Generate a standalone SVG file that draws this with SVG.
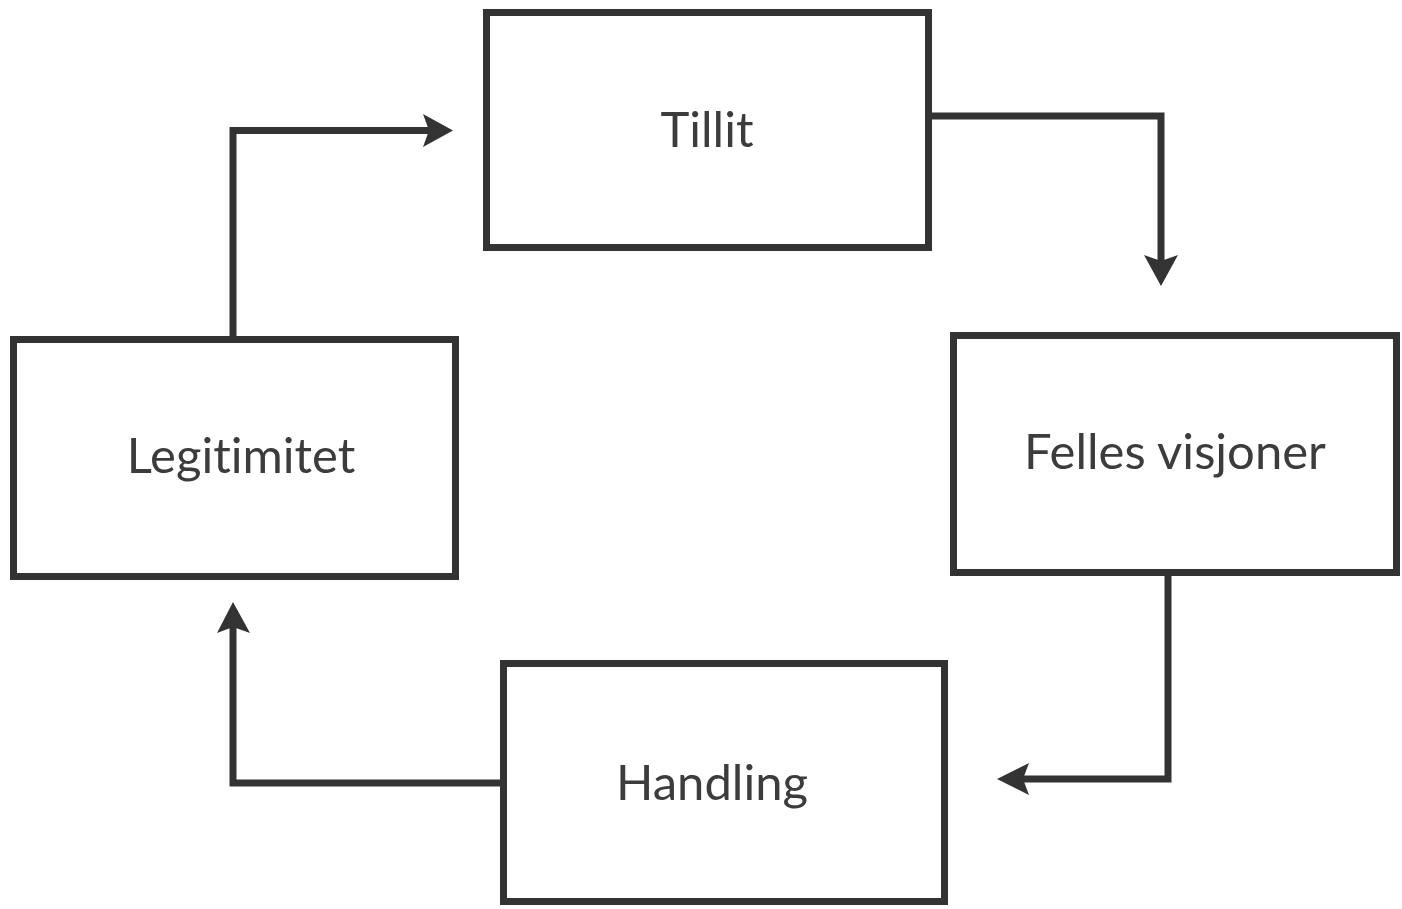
<svg xmlns="http://www.w3.org/2000/svg" width="1402" height="909" viewBox="0 0 1402 909">
<style>
.box{fill:#fff;stroke:#333;stroke-width:7}
.lbl{font-family:Lato,"Liberation Sans",sans-serif;font-size:49px;fill:#3c3c3c;text-anchor:middle;font-variant-ligatures:none;font-feature-settings:"liga" 0}
.con{fill:none;stroke:#333;stroke-width:7;stroke-linejoin:miter}
.head{fill:#333}
</style>
<rect width="1402" height="909" fill="#fff"/>
<g id="connectors">
<path class="con" d="M233,336 L233,130.5 L433,130.5"/>
<polygon class="head" points="453,130.5 423,114 429,130.5 423,147"/>
<path class="con" d="M932,116 L1161,116 L1161,264"/>
<polygon class="head" points="1161,286 1144,255 1161,261 1178,255"/>
<path class="con" d="M1168,576 L1168,779 L1020,779"/>
<polygon class="head" points="997,779 1029,763 1023,779 1029,795"/>
<path class="con" d="M500,783 L233,783 L233,625"/>
<polygon class="head" points="233,602 217,633 233,627 250,633"/>
</g>
<g id="tillit">
<rect class="box" x="486.5" y="12.5" width="442" height="235"/>
<text class="lbl" x="707" y="147">Tillit</text>
</g>
<g id="legitimitet">
<rect class="box" x="13.5" y="339.5" width="442" height="237"/>
<text class="lbl" x="241" y="473">Legitimitet</text>
</g>
<g id="felles">
<rect class="box" x="953.5" y="335.5" width="443" height="237"/>
<text class="lbl" x="1175" y="469">Felles visjoner</text>
</g>
<g id="handling">
<rect class="box" x="503.5" y="663.5" width="441" height="238"/>
<text class="lbl" x="712" y="800">Handling</text>
</g>
</svg>
